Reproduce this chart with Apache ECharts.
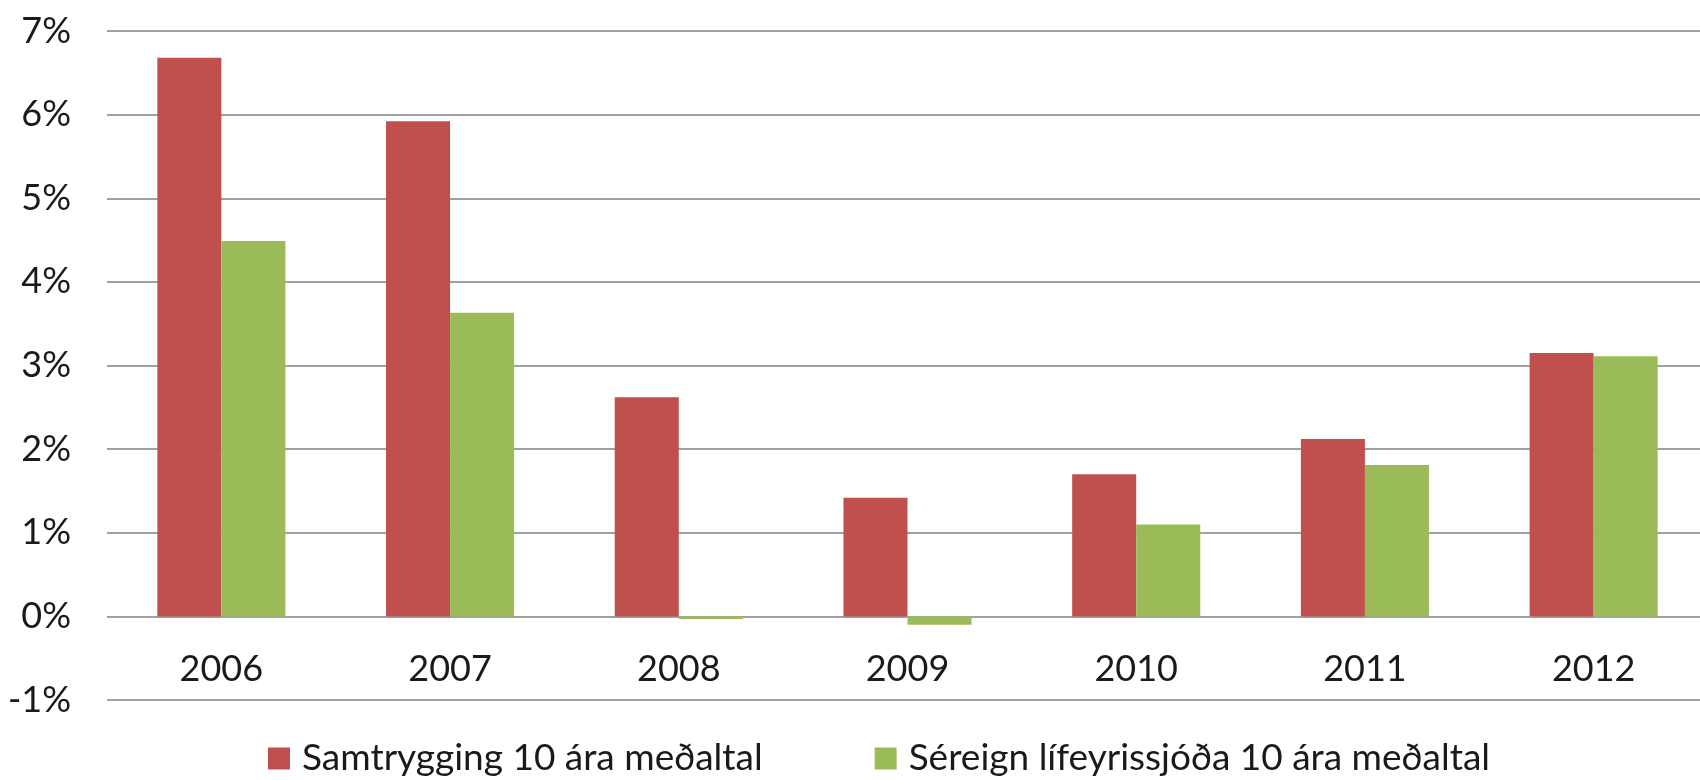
<!DOCTYPE html>
<html>
<head>
<meta charset="utf-8">
<script src="https://cdn.jsdelivr.net/npm/echarts@6/dist/echarts.min.js"></script>
<style>
	html, body { margin: 0; padding: 0; background: #fff; }
	#chart { width: 1700px; height: 780px; }
</style>
</head>
<body>
<div id="chart"></div>
<script>
	// data
	var years = ['2006', '2007', '2008', '2009', '2010', '2011', '2012'];
	var samtrygging = [6.68, 5.92, 2.62, 1.42, 1.70, 2.12, 3.15];
	var sereign = [4.49, 3.63, -0.03, -0.10, 1.10, 1.81, 3.11];
	var seriesNames = ['Samtrygging 10 ára meðaltal', 'Séreign lífeyrissjóða 10 ára meðaltal'];

	var font = 'Lato';
	var txt = '#1a1a1a';

	var myChart = echarts.init(document.getElementById('chart'));
	myChart.setOption({
		animation: false,
		color: ['#C0504D', '#9BBB59'],
		textStyle: { fontFamily: font },
		grid: {
			left: 107,
			width: 1601,
			top: 31,
			bottom: 80,
			outerBoundsMode: 'none'
		},
		legend: {
			data: seriesNames,
			left: 263,
			top: 735,
			itemWidth: 22,
			itemHeight: 22,
			itemGap: 112,
			icon: 'rect',
			textStyle: {
				fontFamily: font,
				fontSize: 37,
				color: txt,
				padding: [0, 0, 0, 7]
			}
		},
		xAxis: {
			type: 'category',
			data: years,
			axisTick: { show: false },
			axisLine: { show: false, onZero: false },
			axisLabel: {
				fontFamily: font,
				fontSize: 36,
				color: txt,
				verticalAlign: 'middle',
				margin: -31
			}
		},
		yAxis: {
			type: 'value',
			min: -1,
			max: 7,
			interval: 1,
			axisLine: { show: false },
			axisTick: { show: false },
			splitLine: { lineStyle: { color: '#a0a0a0', width: 2 } },
			axisLabel: {
				fontFamily: font,
				fontSize: 36,
				color: txt,
				margin: 36,
				formatter: '{value}%'
			}
		},
		series: [{
			name: seriesNames[0],
			type: 'bar',
			barGap: '0%',
			barCategoryGap: '44%',
			data: samtrygging
		}, {
			name: seriesNames[1],
			type: 'bar',
			barGap: '0%',
			barCategoryGap: '44%',
			data: sereign
		}]
	});
</script>
</body>
</html>
